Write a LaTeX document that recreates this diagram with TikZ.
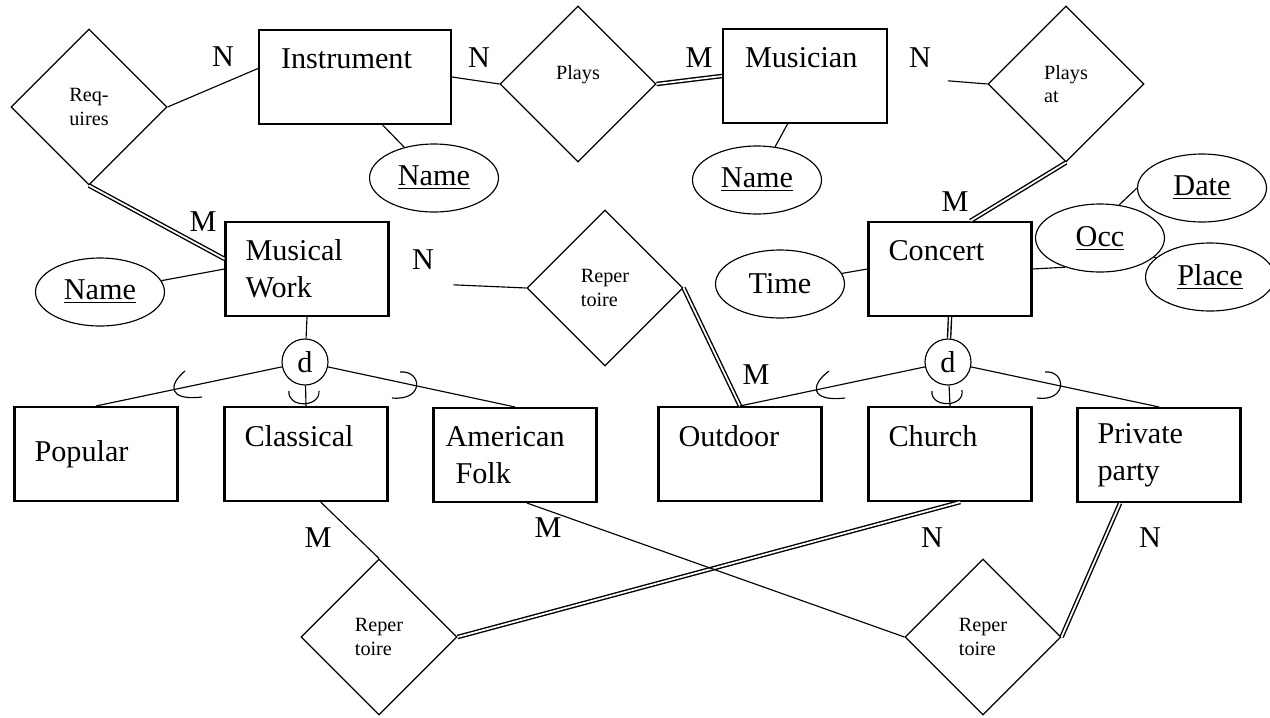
\documentclass[tikz,border=0pt]{standalone}
\usepackage{fontspec}
\setmainfont{Liberation Serif}
\usepackage{tikz}
\usetikzlibrary{shapes.geometric, positioning}
\newcommand{\bigtext}{\fontsize{17.2}{21}\selectfont}
\newcommand{\smalltext}{\fontsize{11.5}{13.5}\selectfont}
\tikzset{%
	entity box/.style={
		draw,
		rectangle,
		line width=1.2pt,
		align=left,
		inner xsep=0.4cm,
		text width=2.46cm,
		minimum height=1.88cm,
		font=\bigtext
	},
	relation/.style={
		draw,
		diamond,
		aspect=1,
		line width=0.65pt,
		minimum width=3.12cm,
		minimum height=3.12cm,
		align=left,
		font=\smalltext
	},
	attribute/.style={
		draw,
		ellipse,
		fill=white,
		line width=0.65pt,
		minimum width=2.58cm,
		minimum height=1.36cm,
		inner sep=0pt,
		font=\bigtext
	},
	disjoint/.style={
		draw,
		circle,
		fill=white,
		line width=0.65pt,
		minimum size=0.92cm,
		inner sep=0pt,
		font=\bigtext
	},
	card/.style={font=\bigtext, inner sep=0pt},
	link/.style={line width=0.65pt},
	total/.style={double, double distance=1pt, line width=0.8pt},
}

\begin{document}
\begin{tikzpicture}[x=0.02cm, y=-0.02cm]
	\useasboundingbox (0,0) rectangle (1270,717);
	\clip (0,0) rectangle (1270,717);
	\fill[white] (0,0) rectangle (1270,717);

	% Entities
	\node[entity box, text width=2.96cm, inner xsep=0.44cm] (instr) at (355,77) {Instrument\\\mbox{}};
	\node[entity box, text width=2.40cm, inner xsep=0.44cm] (mus) at (805,76) {Musician\\\mbox{}};
	\node[entity box] (work) at (307,269) {Musical\\Work};
	\node[entity box] (conc) at (950,269) {Concert\\\mbox{}};
	\node[entity box] (pop) at (96,454) {Popular};
	\node[entity box] (clas) at (306,454) {Classical\\\mbox{}};
	\node[entity box, inner xsep=0.24cm, text width=2.78cm] (folk) at (515,455) {American\\\hspace*{0.2cm}Folk};
	\node[entity box] (outd) at (740,454) {Outdoor\\\mbox{}};
	\node[entity box] (church) at (950,454) {Church\\\mbox{}};
	\node[entity box] (party) at (1159,455) {Private\\party};

	% Relationships
	\node[relation] (req) at (89,107) {Req-\\uires};
	\node[relation] (plays) at (578,84) {Plays\\\mbox{}};
	\node[relation] (playsat) at (1066,84) {Plays\\at};
	\node[relation] (repmid) at (605,288) {Reper\\toire};
	\node[relation] (repleft) at (379,637) {Reper\\toire};
	\node[relation] (repright) at (983,637) {Reper\\toire};

	% Attributes
	\node[attribute] (instrname) at (434,178) {\underline{Name}};
	\node[attribute] (musname) at (757,180) {\underline{Name}};
	\node[attribute] (workname) at (100,292) {\underline{Name}};
	\node[attribute] (time) at (780,284) {Time};
	\node[attribute] (date) at (1202,188) {\underline{Date}};
	\node[attribute] (place) at (1210,277) {\underline{Place}};
	\node[attribute] (occ) at (1100,238) {\underline{Occ}};

	% Disjointness circles
	\node[disjoint] (dwork) at (305,362) {d};
	\node[disjoint] (dconc) at (948,362) {d};

	% Relationship lines
	\draw[link] (req.east) -- (instr.175);
	\draw[total] (req.south) -- (work.173);
	\draw[link] (instr.east) -- (plays.west);
	\draw[total] (plays.east) -- (mus.west);
	\draw[link, shorten <=1.2cm] (mus.east) -- (playsat.west);
	\draw[total] (playsat.south) -- (conc.67);
	\draw[link, shorten <=1.28cm] (work.-9) -- (repmid.west);
	\draw[total] (repmid.east) -- (outd.north);
	\draw[link] (clas.-73) -- (repleft.north);
	\draw[total] (church.-78) -- (repleft.east);
	\draw[link] (folk.-76) -- (repright.west);
	\draw[total] (party.-129) -- (repright.east);

	% Attribute lines
	\draw[link] (instr.-60) -- (instrname);
	\draw[link] (mus.-110) -- (musname);
	\draw[link] (work.west) -- (workname);
	\draw[link] (conc.west) -- (time);
	\draw[link] (conc.east) -- (occ.220);
	\draw[link] (occ.60) -- (date.west);
	\draw[link] (occ) -- (place);

	% Specialisation lines
	\draw[link] (work.south) -- (dwork);
	\draw[link] (dwork) -- (pop.north);
	\draw[link] (dwork) -- (clas.north);
	\draw[link] (dwork) -- (folk.north);
	\draw[total] (conc.south) -- (dconc);
	\draw[link] (dconc) -- (outd.north);
	\draw[link] (dconc) -- (church.north);
	\draw[link] (dconc) -- (party.north);

	% Subset marks
	\draw[link] (185,371) .. controls (168,385) and (168,401) .. (202,397);
	\draw[link] (289,391) .. controls (287,408) and (320,408) .. (319,391);
	\draw[link] (400,372) .. controls (422,370) and (425,401) .. (392,398);
	\draw[link] (829,371) .. controls (810,385) and (810,402) .. (845,398);
	\draw[link] (932,391) .. controls (930,408) and (965,408) .. (962,390);
	\draw[link] (1045,372) .. controls (1066,370) and (1068,402) .. (1037,398);

	% Cardinalities
	\node[card] (creqinstr) at (223,57) {N};
	\node[card] (creqwork) at (203,222) {M};
	\node[card] (cinstrplays) at (479,58) {N};
	\node[card] (cplaysmus) at (699,58) {M};
	\node[card] (cmusat) at (920,58) {N};
	\node[card] (catconc) at (955,202) {M};
	\node[card] (cworkrep) at (423,260) {N};
	\node[card] (crepoutd) at (756,375) {M};
	\node[card] (cclasrep) at (318,538) {M};
	\node[card] (cfolkrep) at (548,528) {M};
	\node[card] (cchurchrep) at (932,538) {N};
	\node[card] (cpartyrep) at (1150,538) {N};
\end{tikzpicture}
\end{document}
